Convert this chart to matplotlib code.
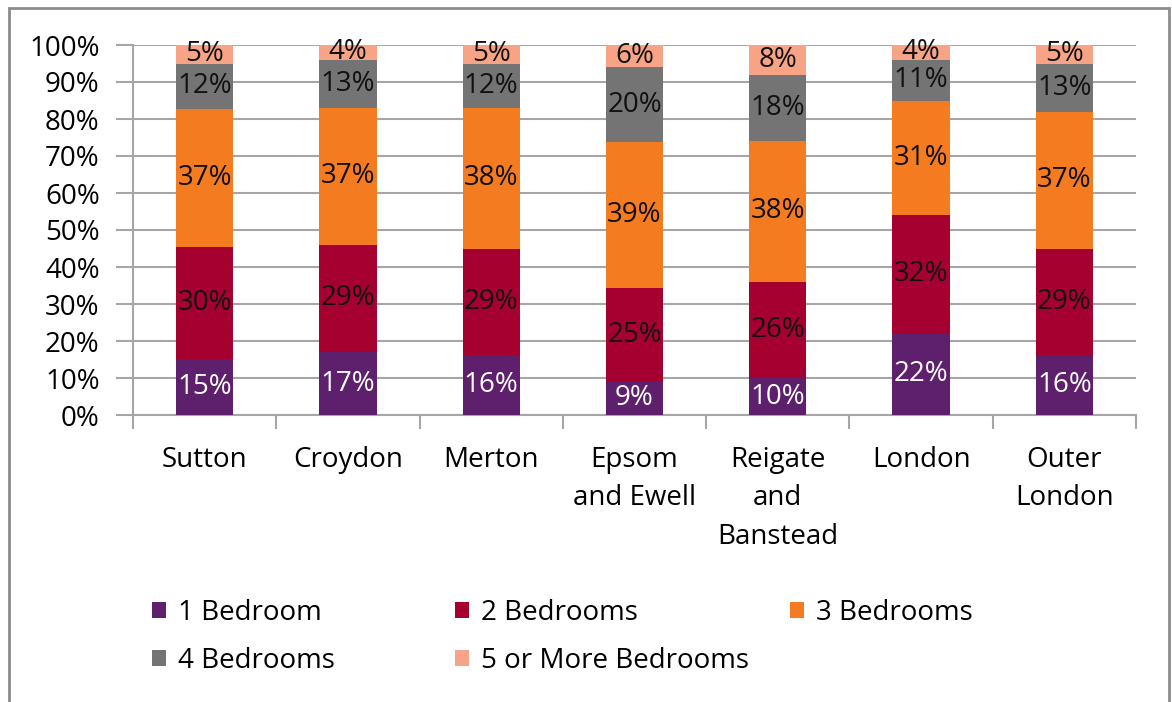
import numpy as np
import matplotlib
matplotlib.use("Agg")
from matplotlib import pyplot as plt
from matplotlib.patches import Rectangle, Patch

plt.rcParams['font.family'] = ['Open Sans', 'DejaVu Sans']

# Data
areas = ['Sutton', 'Croydon', 'Merton', 'Epsom\nand Ewell',
         'Reigate\nand\nBanstead', 'London', 'Outer\nLondon']
series = ['1 Bedroom', '2 Bedrooms', '3 Bedrooms', '4 Bedrooms', '5 or More Bedrooms']
bed1 = [15, 17, 16, 9, 10, 22, 16]
bed2 = [30, 29, 29, 25, 26, 32, 29]
bed3 = [37, 37, 38, 39, 38, 31, 37]
bed4 = [12, 13, 12, 20, 18, 11, 13]
bed5 = [5, 4, 5, 6, 8, 4, 5]

colors = ['#5E1F6C', '#A5002F', '#F47B20', '#747474', '#F7A486']
text_colors = ['white', '#111111', '#111111', '#111111', '#111111']

values = np.array([bed1, bed2, bed3, bed4, bed5], dtype=float)
shares = values / values.sum(axis=0) * 100  # 100% stacked

FS = 20
fig = plt.figure(figsize=(11.72, 7.02), dpi=100)
ax = fig.add_axes([133 / 1172, 1 - 415 / 702, (1136 - 133) / 1172, (415 - 45) / 702])

x = np.arange(len(areas))
bottom = np.zeros(len(areas))
for i in range(len(series)):
    ax.bar(x, shares[i], 0.4, bottom=bottom, color=colors[i], zorder=3)
    for j in range(len(areas)):
        ax.text(x[j], bottom[j] + shares[i][j] / 2, f'{int(values[i][j])}%',
                ha='center', va='center', fontsize=FS, color=text_colors[i], zorder=4)
    bottom += shares[i]

# Axes styling
grid_c = '#A6A6A6'
ax.set_xlim(-0.5, len(areas) - 0.5)
ax.set_ylim(0, 100)
ax.set_yticks(np.arange(0, 101, 10))
ax.set_yticklabels([f'{v}%' for v in range(0, 101, 10)], fontsize=FS)
ax.yaxis.grid(True, color=grid_c, linewidth=1.5, zorder=0)
ax.tick_params(axis='y', length=12, width=1.5, color=grid_c, pad=12)

ax.set_xticks(x)
ax.set_xticklabels(areas, fontsize=FS, linespacing=1.5)
ax.set_xticks(np.arange(-0.5, len(areas), 1), minor=True)
ax.tick_params(axis='x', which='major', length=0, pad=22)
ax.tick_params(axis='x', which='minor', length=10, width=1.5, color=grid_c)

for side in ['top', 'right']:
    ax.spines[side].set_visible(False)
for side in ['left', 'bottom']:
    ax.spines[side].set_color(grid_c)
    ax.spines[side].set_linewidth(1.5)

# Legend entries laid out on a grid
leg_x = [152, 455, 790, 152, 455]
leg_y = [613, 613, 613, 661, 661]
for i, name in enumerate(series):
    leg = fig.legend(handles=[Patch(facecolor=colors[i], edgecolor='none')], labels=[name],
                     loc='center left', bbox_to_anchor=(leg_x[i] / 1172, 1 - leg_y[i] / 702),
                     frameon=False, fontsize=FS, handlelength=0.5, handleheight=0.5,
                     handletextpad=0.45, borderpad=0, borderaxespad=0)

# Outer chart frame
fig.add_artist(Rectangle((9 / 1172, -0.05), (1169 - 9) / 1172, 1.05 - 8 / 702,
                         transform=fig.transFigure, fill=False,
                         edgecolor='#8C8C8C', linewidth=2))

fig.savefig('out.png', dpi=100)
